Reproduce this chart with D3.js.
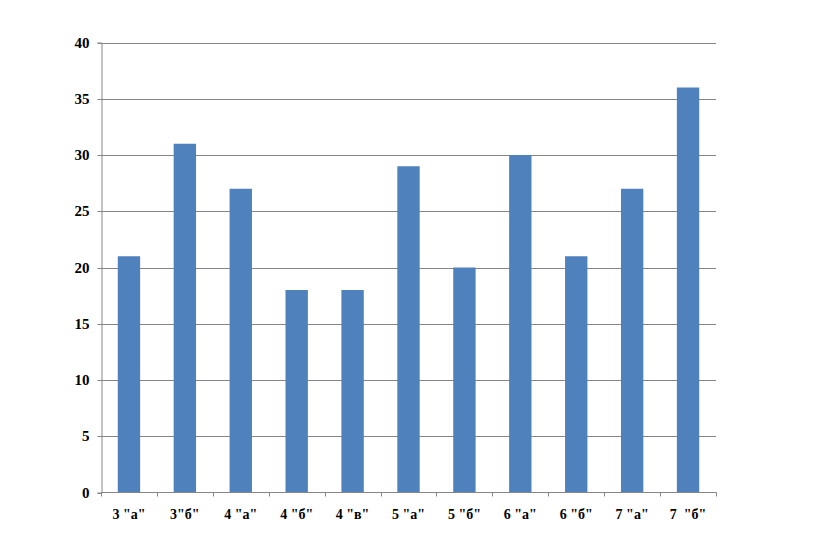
<!DOCTYPE html>
<html><head><meta charset="utf-8">
<script src="https://cdn.jsdelivr.net/npm/d3@7"></script>
<style>body{margin:0;background:#fff;} svg text{font-family:"Liberation Serif","Times New Roman",serif;font-weight:bold;}</style>
</head><body>
<svg id="c" width="820" height="550"></svg>
<script>
const categories = ['3 "а"', '3"б"', '4 "а"', '4 "б"', '4 "в"', '5 "а"', '5 "б"', '6 "а"', '6 "б"', '7 "а"', '7  "б"'];
const values = [21, 31, 27, 18, 18, 29, 20, 30, 21, 27, 36];
const yTicks = [0, 5, 10, 15, 20, 25, 30, 35, 40];

(function () {
const svg = d3.select("#c");
const pL = 101, pR = 716, pT = 42.5, pB = 492.5;
const x = d3.scaleBand().domain(categories).range([pL, pR]).paddingInner(0.6).paddingOuter(0.3);
const xb = d3.scaleBand().domain(categories).range([pL, pR]);
const y = d3.scaleLinear().domain([0, 40]).range([pB, pT]);

// gridlines
svg.append("g").selectAll("line").data(yTicks.filter(d => d > 0)).join("line")
  .attr("x1", pL).attr("x2", pR)
  .attr("y1", d => Math.round(y(d)) + 0.5).attr("y2", d => Math.round(y(d)) + 0.5)
  .attr("stroke", "#868686").attr("stroke-width", 1);

// bars
svg.append("g").selectAll("rect").data(values).join("rect")
  .attr("x", (d, i) => x(categories[i]))
  .attr("width", x.bandwidth())
  .attr("y", d => y(d)).attr("height", d => pB - y(d))
  .attr("fill", "#4F81BD");

// y axis
const yAxis = svg.append("g").attr("transform", `translate(${pL + 0.5},0)`)
  .call(d3.axisLeft(y).tickValues(yTicks).tickSize(4).tickPadding(8));
yAxis.select(".domain").attr("stroke", "#868686");
yAxis.selectAll(".tick line").attr("stroke", "#868686");
yAxis.selectAll(".tick text").attr("font-size", 15).attr("fill", "#000")
  .attr("font-family", "Liberation Serif").attr("font-weight", "bold");
yAxis.selectAll(".tick").attr("transform", d => `translate(0,${Math.round(y(d)) + 0.5})`);

// x axis
const xAxis = svg.append("g").attr("transform", `translate(0,${pB})`);
xAxis.append("line").attr("x1", pL).attr("x2", pR + 0.5).attr("y1", 0).attr("y2", 0).attr("stroke", "#868686");
const edges = categories.map(c => xb(c)).concat([pR]);
xAxis.selectAll("line.t").data(edges).join("line").attr("class", "t")
  .attr("x1", d => Math.round(d) + 0.5).attr("x2", d => Math.round(d) + 0.5)
  .attr("y1", 0).attr("y2", 4).attr("stroke", "#868686");
xAxis.selectAll("text").data(categories).join("text")
  .attr("x", d => xb(d) + xb.bandwidth() / 2)
  .attr("y", 26)
  .attr("text-anchor", "middle")
  .attr("font-size", 14)
  .attr("fill", "#000")
  .style("white-space", "pre")
  .text(d => d);
})();
</script>
</body></html>
